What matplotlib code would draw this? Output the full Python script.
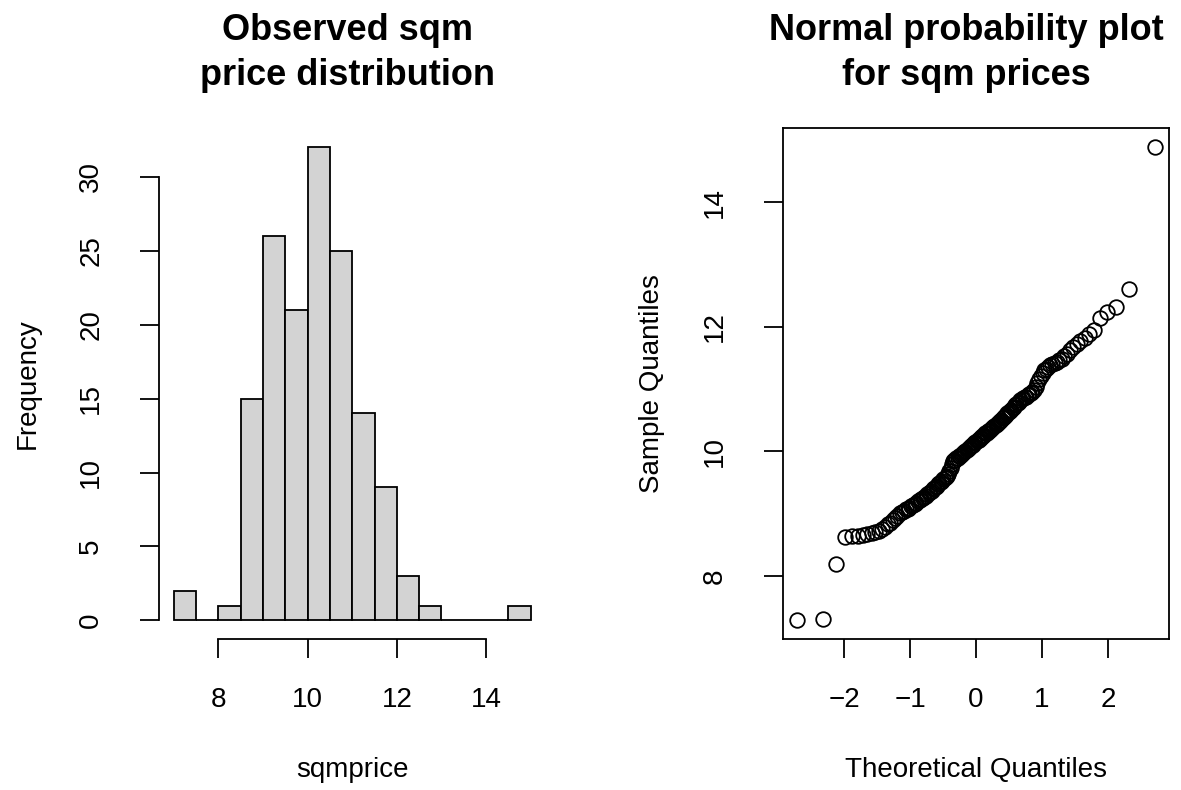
import numpy as np
import matplotlib
matplotlib.use("Agg")
import matplotlib.pyplot as plt
from statistics import NormalDist

plt.rcParams["font.family"] = ["Liberation Sans", "DejaVu Sans"]

# -------------------------
# data: sqm prices (sorted), grouped by bin
# -------------------------
bin_7_0 = [7.29, 7.31]
bin_8_0 = [8.19]
bin_8_5 = [8.62, 8.64, 8.65, 8.66, 8.67, 8.69, 8.71, 8.73, 8.75, 8.79,
           8.83, 8.86, 8.90, 8.93, 8.97]
bin_9_0 = [9.01, 9.03, 9.05, 9.07, 9.08, 9.10, 9.12, 9.14, 9.16, 9.18,
           9.20, 9.22, 9.24, 9.25, 9.27, 9.29, 9.31, 9.33, 9.35, 9.37,
           9.39, 9.41, 9.43, 9.45, 9.47, 9.49]
bin_9_5 = [9.51, 9.53, 9.55, 9.57, 9.59, 9.61, 9.64, 9.68, 9.74, 9.80,
           9.84, 9.86, 9.87, 9.89, 9.90, 9.92, 9.93, 9.95, 9.96, 9.98, 9.99]
bin_10_0 = [10.01, 10.02, 10.04, 10.05, 10.07, 10.08, 10.10, 10.11, 10.13, 10.15,
            10.16, 10.18, 10.19, 10.21, 10.22, 10.24, 10.25, 10.27, 10.29, 10.30,
            10.32, 10.33, 10.35, 10.36, 10.38, 10.40, 10.41, 10.43, 10.44, 10.46,
            10.47, 10.49]
bin_10_5 = [10.51, 10.53, 10.55, 10.57, 10.59, 10.61, 10.63, 10.65, 10.67, 10.70,
            10.72, 10.74, 10.76, 10.78, 10.80, 10.82, 10.84, 10.85, 10.87, 10.88,
            10.90, 10.92, 10.94, 10.96, 10.98]
bin_11_0 = [11.04, 11.10, 11.16, 11.21, 11.26, 11.30, 11.33, 11.36, 11.38, 11.40,
            11.42, 11.44, 11.46, 11.48]
bin_11_5 = [11.53, 11.57, 11.62, 11.67, 11.72, 11.77, 11.82, 11.88, 11.95]
bin_12_0 = [12.14, 12.24, 12.32]
bin_12_5 = [12.61]
bin_14_5 = [14.88]

sqmprice = np.array(bin_7_0 + bin_8_0 + bin_8_5 + bin_9_0 + bin_9_5 + bin_10_0
                    + bin_10_5 + bin_11_0 + bin_11_5 + bin_12_0 + bin_12_5 + bin_14_5)

hist_breaks = np.arange(7, 15.5, 0.5)
hist_yticks = [0, 5, 10, 15, 20, 25, 30]
hist_xticks = [8, 10, 12, 14]
qq_xticks = [-2, -1, 0, 1, 2]
qq_yticks = [8, 10, 12, 14]

# theoretical quantiles as in R's qqnorm (ppoints, n > 10)
n = len(sqmprice)
theo = np.array([NormalDist().inv_cdf((i - 0.5) / n) for i in range(1, n + 1)])
sample = np.sort(sqmprice)

# -------------------------
# figure
# -------------------------
W, H = 1181, 790
fig = plt.figure(figsize=(W / 100, H / 100), dpi=100)

def px_box(x0, y0, x1, y1):
    return [x0 / W, 1 - y1 / H, (x1 - x0) / W, (y1 - y0) / H]

ax1 = fig.add_axes(px_box(159.4, 128.3, 545.0, 639.3))
ax2 = fig.add_axes(px_box(782.7, 128.3, 1169.3, 639.3))

FS = 20
LW = 1.3
TICK_LEN = 13.7
for ax in (ax1, ax2):
    ax.tick_params(axis="both", direction="out", length=TICK_LEN, width=LW,
                   labelsize=FS, color="black")
    ax.tick_params(axis="x", pad=21.0)
    ax.tick_params(axis="y", pad=26, labelrotation=90)
    ax.use_sticky_edges = False
    ax.margins(0.04)

# --- histogram ---
ax1.hist(sqmprice, bins=hist_breaks, color="#D3D3D3", edgecolor="black", linewidth=LW)
ax1.set_xticks(hist_xticks)
ax1.set_yticks(hist_yticks)
ax1.set_xlim(7 - 0.04 * 8, 15 + 0.04 * 8)
ax1.set_ylim(-0.04 * 32, 32 * 1.04)
for s in ("top", "right"):
    ax1.spines[s].set_visible(False)
ax1.spines["left"].set_bounds(0, 30)
ax1.spines["bottom"].set_bounds(8, 14)
for s in ("left", "bottom"):
    ax1.spines[s].set_linewidth(LW)

# --- normal probability plot ---
ax2.plot(theo, sample, "o", mfc="none", mec="black", ms=10.5, mew=1.3)
ax2.set_xticks(qq_xticks)
ax2.set_yticks(qq_yticks)
for s in ax2.spines.values():
    s.set_linewidth(LW)

for ax in (ax1, ax2):
    for lab in ax.get_yticklabels():
        lab.set_va("center")

# titles and axis labels (placed like R's base graphics margins)
titles = [
    (348.0, ["Observed sqm", "price distribution"]),
    (966.0, ["Normal probability plot", "for sqm prices"]),
]
for xc, lines in titles:
    for yb, txt in zip([40, 85], lines):
        fig.text(xc / W, 1 - yb / H, txt, ha="center", va="baseline",
                 fontsize=26, fontweight="bold")

fig.text(352.2 / W, 1 - 777 / H, "sqmprice", ha="center", va="baseline", fontsize=FS)
fig.text(976.0 / W, 1 - 777 / H, "Theoretical Quantiles", ha="center", va="baseline", fontsize=FS)
fig.text(28 / W, 1 - 383.8 / H, "Frequency", ha="center", va="center",
         rotation=90, fontsize=FS)
fig.text(652 / W, 1 - 383.8 / H, "Sample Quantiles", ha="center", va="center",
         rotation=90, fontsize=FS)

fig.savefig("out.png", dpi=100)
